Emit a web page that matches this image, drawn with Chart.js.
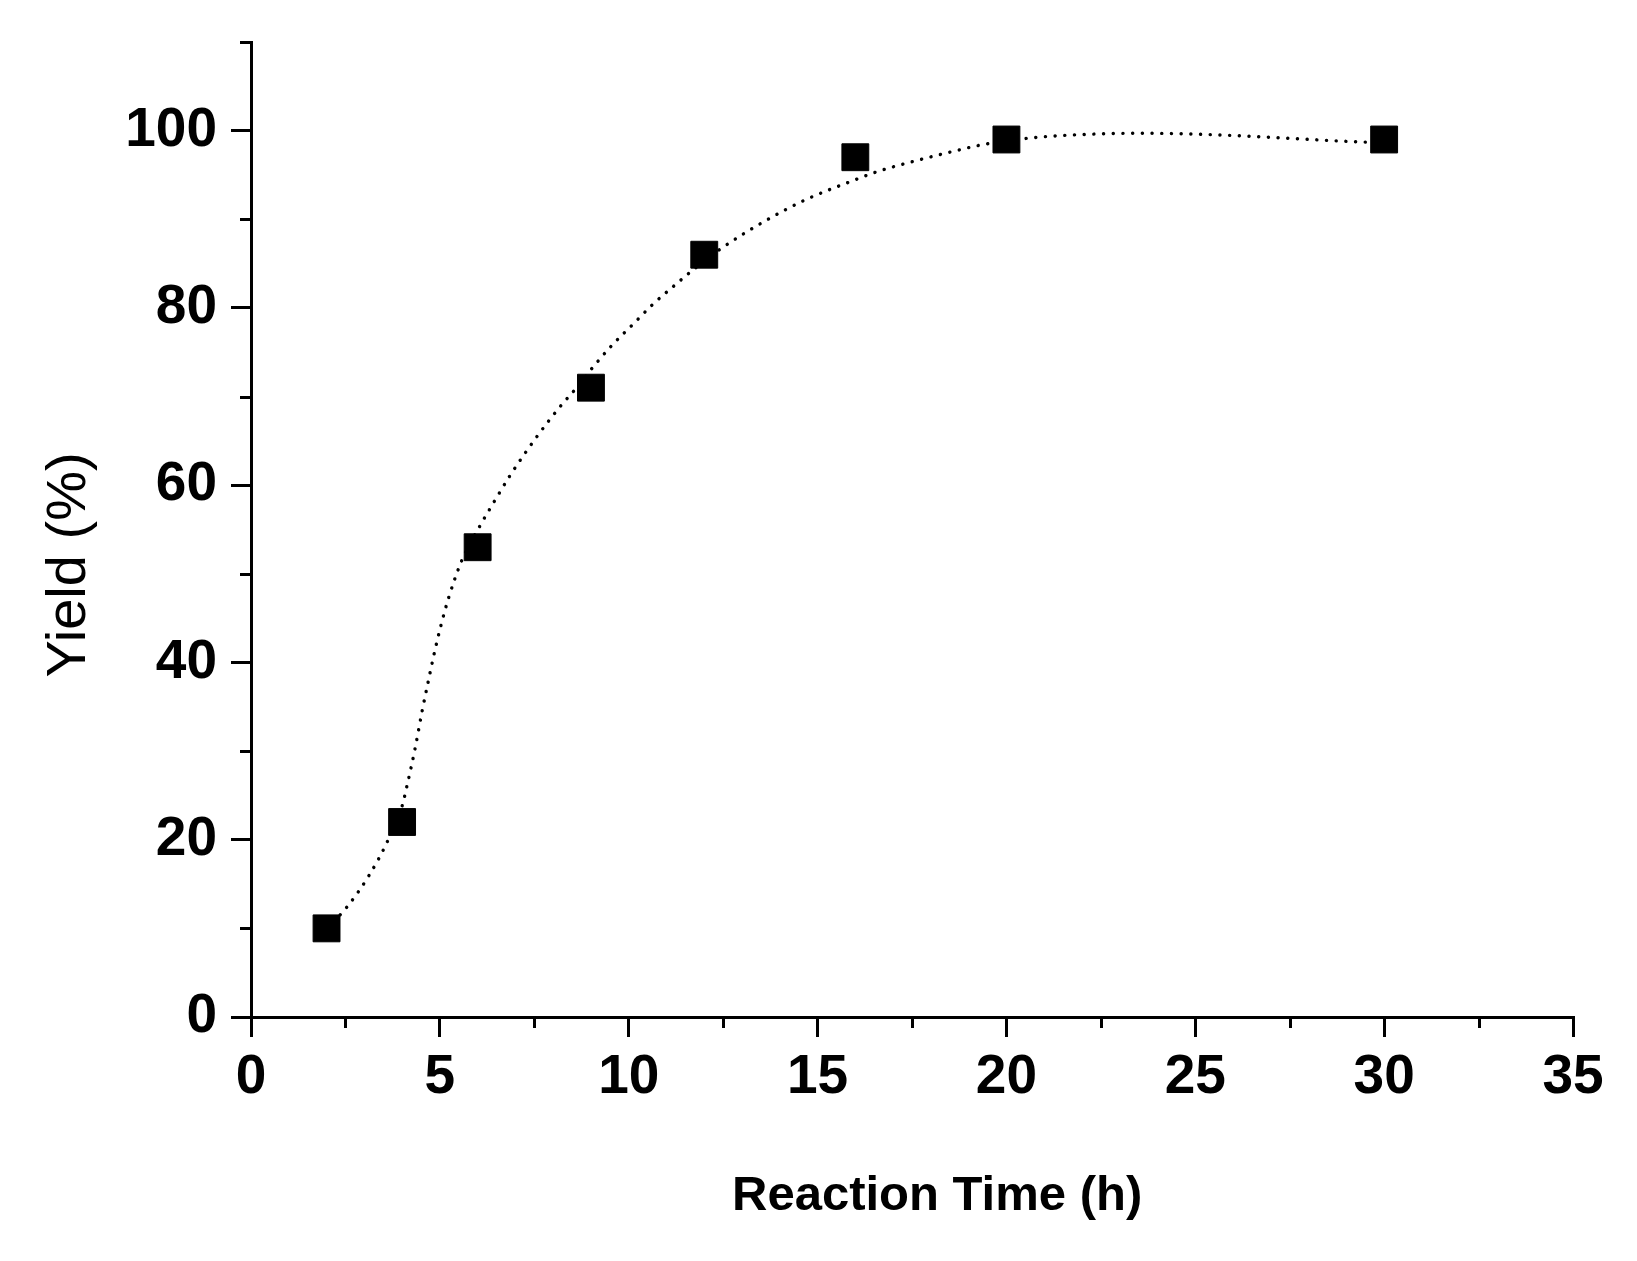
<!DOCTYPE html>
<html>
<head>
<meta charset="utf-8">
<script src="https://cdn.jsdelivr.net/npm/chart.js@4/dist/chart.umd.min.js"></script>
<style>
  html, body { margin: 0; padding: 0; background: #ffffff; }
  #wrap { width: 1637px; height: 1261px; }
</style>
</head>
<body>
<div id="wrap"><canvas id="c" width="1637" height="1261"></canvas></div>
<script>
// Measured data points
const reactionTime = [2, 4, 6, 9, 12, 16, 20, 30];
const yieldPct = [10, 22, 53, 71, 86, 97, 99, 99];

// Fitted (dotted) curve
const curveX = [2.0, 2.5, 3.1, 3.6, 4.0, 4.12, 4.34, 4.53, 4.69, 4.85, 5.03, 5.24, 5.58, 6.06, 6.46, 6.86, 7.59, 8.23, 8.58, 9.05, 9.56, 10.1, 10.65, 11.23, 11.62, 12.43, 13.55, 14.68, 15.89, 16.6, 17.6, 18.6, 19.35, 20.63, 22.43, 23.71, 24.76, 26.05, 27.33, 28.63, 29.39, 30.0];
const curveY = [10.0, 12.2, 15.8, 19.7, 23.8, 25.9, 30.2, 34.5, 37.8, 41.0, 44.2, 47.4, 51.5, 55.4, 58.3, 61.1, 65.6, 69.1, 70.8, 73.3, 75.8, 78.1, 80.45, 82.6, 84.0, 86.65, 89.66, 92.2, 94.28, 95.4, 96.6, 97.67, 98.4, 99.17, 99.63, 99.7, 99.63, 99.44, 99.17, 98.87, 98.72, 98.65];

// Axis ranges and ticks
const xMin = 0, xMax = 35, xMajorStep = 5;
const yMin = 0, yMax = 110, yMajorStep = 20;
const xMinorTicks = [2.5, 7.5, 12.5, 17.5, 22.5, 27.5, 32.5];
const yMinorTicks = [10, 30, 50, 70, 90, 110];

const xTitle = 'Reaction Time (h)';
const yTitle = 'Yield (%)';

const FONT = "'Liberation Sans', Arial, Helvetica, sans-serif";

const minorTickPlugin = {
  id: 'minorTicksAndTitles',
  afterDraw(chart) {
    const ctx = chart.ctx;
    const xs = chart.scales.x, ys = chart.scales.y;
    const area = chart.chartArea;
    ctx.save();
    ctx.strokeStyle = '#000';
    ctx.lineWidth = 3;
    ctx.lineCap = 'butt';
    ctx.beginPath();
    xMinorTicks.forEach(v => {
      const px = Math.round(xs.getPixelForValue(v)) + 0.5;
      ctx.moveTo(px, area.bottom);
      ctx.lineTo(px, area.bottom + 11);
    });
    yMinorTicks.forEach(v => {
      const py = Math.round(ys.getPixelForValue(v)) + 0.5;
      ctx.moveTo(area.left, py);
      ctx.lineTo(area.left - 11, py);
    });
    ctx.stroke();

    // axis titles
    ctx.fillStyle = '#000';
    ctx.textAlign = 'center';
    ctx.textBaseline = 'middle';
    ctx.font = 'bold 49px ' + FONT;
    ctx.fillText(xTitle, area.left + (area.right - area.left) * 0.519, 1196);
    ctx.translate(70, ys.getPixelForValue(51));
    ctx.rotate(-Math.PI / 2);
    ctx.font = '56px ' + FONT;
    ctx.fillText(yTitle, 0, 0);
    ctx.restore();
  }
};

new Chart(document.getElementById('c'), {
  type: 'scatter',
  data: {
    datasets: [
      {
        label: 'Yield',
        data: reactionTime.map((x, i) => ({ x: x, y: yieldPct[i] })),
        pointStyle: 'rect',
        pointRadius: 19,
        pointHoverRadius: 19,
        backgroundColor: '#000',
        borderColor: '#000',
        borderWidth: 1,
        showLine: false,
        order: 0
      },
      {
        label: 'Fit',
        data: curveX.map((x, i) => ({ x: x, y: curveY[i] })),
        showLine: true,
        pointRadius: 0,
        borderColor: '#000',
        borderWidth: 3.4,
        borderCapStyle: 'round',
        borderDash: [0.1, 9.6],
        cubicInterpolationMode: 'monotone',
        fill: false,
        order: 1
      }
    ]
  },
  options: {
    responsive: false,
    animation: false,
    events: [],
    layout: { padding: { top: 42, right: 64, left: 0, bottom: 0 } },
    plugins: {
      legend: { display: false },
      tooltip: { enabled: false },
      title: { display: false }
    },
    scales: {
      x: {
        type: 'linear',
        min: xMin, max: xMax,
        afterFit: s => { s.height = 244; s.paddingLeft = 0; s.paddingRight = 0; },
        border: { display: true, color: '#000', width: 3 },
        grid: { display: true, drawOnChartArea: false, drawTicks: true, tickLength: 20, lineWidth: 3, color: '#000' },
        ticks: {
          stepSize: xMajorStep,
          padding: 8,
          color: '#000',
          maxRotation: 0,
          font: { family: FONT, size: 55, weight: 'bold' }
        },
        title: { display: false }
      },
      y: {
        type: 'linear',
        min: yMin, max: yMax,
        afterFit: s => { s.width = 251; s.paddingTop = 0; s.paddingBottom = 0; },
        border: { display: true, color: '#000', width: 3 },
        grid: { display: true, drawOnChartArea: false, drawTicks: true, tickLength: 20, lineWidth: 3, color: '#000' },
        ticks: {
          stepSize: yMajorStep,
          includeBounds: false,
          padding: 14,
          color: '#000',
          font: { family: FONT, size: 55, weight: 'bold' }
        },
        title: { display: false }
      }
    }
  },
  plugins: [minorTickPlugin]
});
</script>
</body>
</html>
